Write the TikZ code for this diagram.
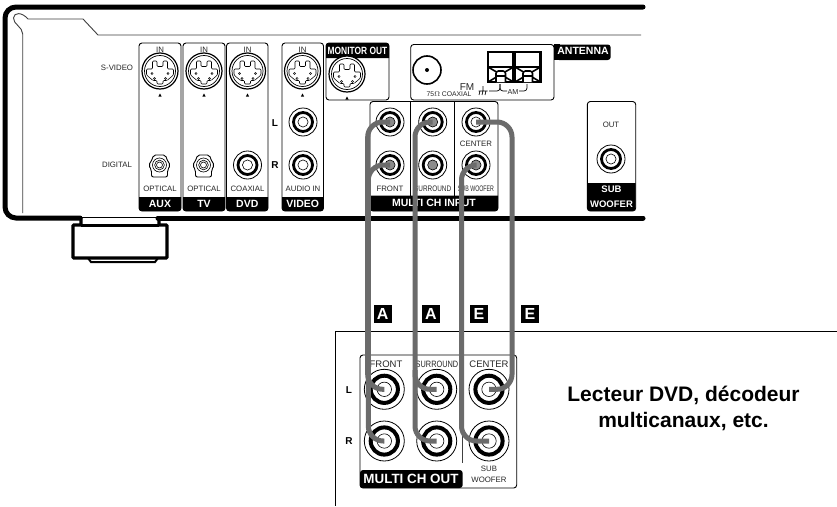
\documentclass[tikz,border=0pt]{standalone}
\usepackage{fontspec}
\setmainfont{Liberation Sans}
\newfontfamily\narrowfont[FakeStretch=0.8]{Liberation Sans}
\newfontfamily\tightfont[FakeStretch=0.66]{Liberation Sans}
\usetikzlibrary{positioning}

% RCA socket: name, position, radius, centre colour
\newcommand{\rcajack}[4]{%
  \node[jack, minimum size=2*#3] (#1) at (#2) {};
  \draw[line width=0.2*#3] (#1.center) circle[radius=0.68*#3];
  \draw[line width=0.6, fill=#4] (#1.center) circle[radius=0.36*#3];
}
% S-video socket: name, position
\newcommand{\svideojack}[2]{%
  \node[jack, line width=1.2, minimum size=36] (#1) at (#2) {};
  \begin{scope}[shift={(#1.center)}]
    \draw[line width=0.7] (0,0) circle[radius=15.5];
    \draw[line width=0.55, rounded corners=1] (-13.5,-2) -- (-7.5,-2) -- (-7.5,-10) -- (-3,-10) -- (-3,-4.5) -- (3,-4.5) -- (3,-10) -- (7.5,-10) -- (7.5,-2) -- (13.5,-2) -- (13.5,4) -- (7,9.5) -- (3,9.5) -- (3,13) -- (-3,13) -- (-3,9.5) -- (-7,9.5) -- (-13.5,4) -- cycle;
    \draw[line width=0.5] (-8,2.5) circle[radius=1.1] (8,2.5) circle[radius=1.1] (-5.5,7.5) circle[radius=1.1] (5.5,7.5) circle[radius=1.1];
    \fill (-1.6,25.5) -- (1.6,25.5) -- (0,22.5) -- cycle;
  \end{scope}
}
% Optical socket: name, position
\newcommand{\opticaljack}[2]{%
  \node[jack, draw=none, minimum size=14] (#1) at (#2) {};
  \begin{scope}[shift={(#1.center)}]
    \draw[line width=0.9, rounded corners=2] (-8,12) -- (8,12) -- (8,5) -- (11,0) -- (8,-4) -- (6,-10) -- (-6,-10) -- (-8,-4) -- (-11,0) -- (-8,5) -- cycle;
    \draw[line width=0.6] (0,0) circle[radius=7] (0,0) circle[radius=4.8] (0,0) circle[radius=3];
  \end{scope}
}
% Antenna clip: left edge
\newcommand{\antennaclip}[1]{%
  \begin{scope}[xshift=#1]
    \draw[line width=2.2, fill=white] (0,52) rectangle (25.5,82);
    \draw[line width=1.6] (0,67) -- (25.5,67) (0,67) -- (25.5,82) (25.5,67) -- (0,82);
    \draw[line width=1.6, fill=white, rounded corners=2.5] (8,82) -- (8,71) -- (17.5,71) -- (17.5,82);
    \draw[line width=1.2] (8,76) -- (17.5,76);
  \end{scope}
}
% Black foot of a panel: name, corner, corner, text
\newcommand{\panelfoot}[5]{%
  \fill[rounded corners=3] (#2,#3) -- (#2,211) -- (#4,211) -- (#4,#3);
  \node[footlabel] (#1) at ({(#2+#4)/2},{(#3+211)/2-0.3}) {#5};
}

\begin{document}
\begin{tikzpicture}[
    x=1pt, y=-1pt,
    % Text styles
    lbl/.style={inner sep=0, text=black!85, font=\fontsize{7.8}{9}\selectfont},
    footlabel/.style={inner sep=0, text=white, font=\fontsize{10.5}{11}\selectfont\bfseries},
    sidelabel/.style={inner sep=0, font=\fontsize{10}{11}\selectfont\bfseries},
    cablelabel/.style={fill=black, text=white, inner sep=0, minimum size=18, font=\fontsize{16}{16}\selectfont\bfseries},
    % Shape styles
    panel/.style={draw=black, line width=0.9, fill=white, rounded corners=3},
    jack/.style={circle, draw=black, line width=0.8, inner sep=0, fill=white},
    frameline/.style={line width=5, line cap=round},
    thinline/.style={line width=0.9, black!75},
    % Cable style
    cable/.style={line width=5, draw=black!58, rounded corners=15}
  ]
  \path[fill=white, use as bounding box] (0,0) rectangle (837,506);

  % ==========================================
  % 1. Receiver body
  % ==========================================
  \draw[frameline, rounded corners=11] (643,7) -- (5,7) -- (5,218) -- (80,218);
  \draw[frameline] (158,218) -- (643,218);
  \draw[thinline] (22.7,213) -- (22.7,34) .. controls (22.7,27) and (13,24) .. (13.5,18) .. controls (14,12) and (22,12) .. (28,19) -- (83,19) -- (98,35) -- (641,35);

  % Foot
  \draw[line width=3.4, rounded corners=1] (81,217) -- (81,225) -- (73,225) -- (73,258) -- (167,258) -- (167,225) -- (159,225) -- (159,217);
  \draw[line width=3] (81,225) -- (159,225);
  \draw[line width=1] (81,217) -- (159,217);
  \draw[line width=2] (88,258) -- (91,262) -- (155,262) -- (158,258);

  % ==========================================
  % 2. Input panels
  % ==========================================
  \draw[panel] (139,43) rectangle (181,211);
  \draw[panel] (183,43) rectangle (225,211);
  \draw[panel] (226.5,43) rectangle (268,211);
  \draw[panel] (282,43) rectangle (323.5,211);
  \panelfoot{auxfoot}{139}{197}{181}{AUX}
  \panelfoot{tvfoot}{183}{197}{225}{TV}
  \panelfoot{dvdfoot}{226.5}{197}{268}{DVD}
  \panelfoot{videofoot}{282}{197}{323.5}{VIDEO}

  \svideojack{svAux}{160,71}
  \svideojack{svTv}{204,71}
  \svideojack{svDvd}{247.5,71}
  \svideojack{svVideo}{302.5,71}
  \opticaljack{optAux}{159.5,165}
  \opticaljack{optTv}{203.5,165}
  \rcajack{coaxDvd}{247.5,165}{14}{white}
  \rcajack{videoL}{303,122}{14}{white}
  \rcajack{videoR}{303,165}{14}{white}

  \node[lbl] (inAux) at (160,49.5) {IN};
  \node[lbl] (inTv) at (204,49.5) {IN};
  \node[lbl] (inDvd) at (247.5,49.5) {IN};
  \node[lbl] (inVideo) at (302.5,49.5) {IN};
  \node[lbl] (svideolabel) at (117,68) {S-VIDEO};
  \node[lbl] (digitallabel) at (117,165) {DIGITAL};
  \node[lbl] (optAuxlabel) at (160,189) {OPTICAL};
  \node[lbl] (optTvlabel) at (204,189) {OPTICAL};
  \node[lbl] (coaxlabel) at (247.5,189) {COAXIAL};
  \node[lbl] (audiolabel) at (303,189) {AUDIO IN};
  \node[sidelabel] (videoLlabel) at (275,123.5) {L};
  \node[sidelabel] (videoRlabel) at (275,165) {R};

  % Monitor out
  \draw[panel] (326,43) rectangle (389,100);
  \fill[rounded corners=3] (326,58) -- (326,43) -- (389,43) -- (389,58);
  \node[footlabel, font=\fontsize{10.5}{11}\narrowfont\bfseries] (monitorlabel) at (357.5,50.5) {MONITOR OUT};
  \svideojack{svMonitor}{347,74}

  % Antenna
  \draw[panel] (410.7,44.5) rectangle (554,100);
  \fill[rounded corners=3] (556,60) -- (610.7,60) -- (610.7,44.5) -- (556,44.5) -- cycle;
  \fill (554,44) rectangle (560,60);
  \node[footlabel] (antennalabel) at (583,51) {ANTENNA};
  \node[circle, draw=black, line width=1.6, inner sep=0, minimum size=28] (coaxfm) at (427,70) {};
  \fill (coaxfm.center) circle[radius=2];
  \antennaclip{488}
  \antennaclip{515}
  \node[lbl, font=\fontsize{10}{11}\selectfont] (fmlabel) at (467,87) {FM};
  \node[lbl, font=\fontsize{6.8}{8}\selectfont] (coaxlabelfm) at (449,94.5) {75$\Omega$ COAXIAL};
  \node[lbl, font=\fontsize{7.2}{8}\selectfont] (amlabel) at (513,92) {AM};
  \draw[line width=0.7] (483,86) -- (483,91) (478.5,91) -- (487.5,91) (480,91) -- (479,95) (483,91) -- (482,95) (486,91) -- (485,95);
  \draw[line width=0.7, rounded corners=3] (489,91) -- (500,91) -- (500,84);
  \draw[line width=0.7, rounded corners=3] (500,84) -- (500,91) -- (507,91);
  \draw[line width=0.7, rounded corners=3] (519,91) -- (527,91) -- (527,84);

  % Multi channel input
  \draw[panel] (370,101.5) rectangle (498,211);
  \draw[thinline, black] (410.7,102) -- (410.7,196) (454.3,102) -- (454.3,196);
  \panelfoot{multiinfoot}{370}{195.7}{498}{MULTI CH INPUT}
  \rcajack{inFrontL}{390,122}{14}{black!45}
  \rcajack{inFrontR}{390,165}{14}{black!45}
  \rcajack{inSurrL}{432.7,122}{14}{black!45}
  \rcajack{inSurrR}{432.7,165}{14}{black!45}
  \rcajack{inCenter}{476,122}{14}{white}
  \rcajack{inSub}{476,165}{14}{black!45}
  \node[lbl] (inFrontlabel) at (390,189) {FRONT};
  \node[lbl, font=\fontsize{8}{9}\narrowfont] (inSurrlabel) at (432.7,189) {SURROUND};
  \node[lbl] (inCenterlabel) at (476,144) {CENTER};
  \node[lbl, font=\fontsize{8}{9}\tightfont] (inSublabel) at (476,189) {SUB WOOFER};

  % Sub woofer out
  \draw[panel] (587.3,101.5) rectangle (635.7,211);
  \panelfoot{subfoot}{587.3}{183}{635.7}{\parbox{48pt}{\centering\fontsize{9.5}{15}\selectfont\bfseries SUB\\WOOFER}}
  \rcajack{subOut}{611,159}{14}{white}
  \node[lbl] (outlabel) at (611,125) {OUT};

  % ==========================================
  % 3. Source device
  % ==========================================
  \draw[line width=1] (837,331) -- (335,331) -- (335,506);
  \draw[panel] (360,355) rectangle (516.7,488);
  \fill[rounded corners=3] (360,470) -- (360,488) -- (462.7,488) -- (462.7,470) -- cycle;
  \draw[thinline] (462.7,355) -- (462.7,463);
  \node[footlabel, font=\fontsize{13.4}{14}\selectfont\bfseries] (multioutfoot) at (411,479) {MULTI CH OUT};
  \rcajack{outFrontL}{384.3,389.3}{20}{white}
  \rcajack{outFrontR}{384.3,441}{20}{white}
  \rcajack{outSurrL}{436.7,389.3}{20}{white}
  \rcajack{outSurrR}{436.7,441}{20}{white}
  \rcajack{outCenter}{489,389.3}{20}{white}
  \rcajack{outSub}{489,441}{20}{white}
  \node[lbl, font=\fontsize{9.5}{10}\selectfont] (outFrontlabel) at (386,364) {FRONT};
  \node[lbl, font=\fontsize{9.2}{10}\narrowfont] (outSurrlabel) at (437,364) {SURROUND};
  \node[lbl, font=\fontsize{9.5}{10}\selectfont] (outCenterlabel) at (489,364) {CENTER};
  \node[lbl, align=center, font=\fontsize{7.8}{11}\selectfont] (outSublabel) at (489,474.5) {SUB\\WOOFER};
  \node[sidelabel] (outLlabel) at (349,390) {L};
  \node[sidelabel] (outRlabel) at (349,441) {R};
  \node[inner sep=0, align=center, font=\fontsize{21}{26}\selectfont\bfseries] (devicelabel) at (683.5,408) {Lecteur DVD, décodeur\\multicanaux, etc.};

  % ==========================================
  % 4. Cables
  % ==========================================
  \coordinate (frontbendA) at (367.7,280);
  \coordinate (frontbendB) at (368.3,280);
  \coordinate (surrbend) at (415,280);
  \coordinate (surrtap) at (415,370);
  \coordinate (centerbend) at (512,280);
  \coordinate (subbend) at (461.5,280);

  \draw[cable] (inFrontL.center) -| (frontbendA) |- (outFrontL.center);
  \draw[cable] (inFrontR.center) -| (frontbendB) |- (outFrontR.center);
  \draw[cable] (inSurrL.center) -| (surrbend) |- (outSurrR.center);
  \draw[cable] (surrtap) |- (outSurrL.center);
  \draw[cable] (inCenter.center) -| (centerbend) |- (outCenter.center);
  \draw[cable] (inSub.center) -| (subbend) |- (outSub.center);

  % ==========================================
  % 5. Cable letters
  % ==========================================
  \node[cablelabel] (cableA) at (382.7,314) {A};
  \node[cablelabel] (cableB) at (431,314) {A};
  \node[cablelabel] (cableC) at (479,314) {E};
  \node[cablelabel] (cableD) at (530,314) {E};
\end{tikzpicture}
\end{document}
